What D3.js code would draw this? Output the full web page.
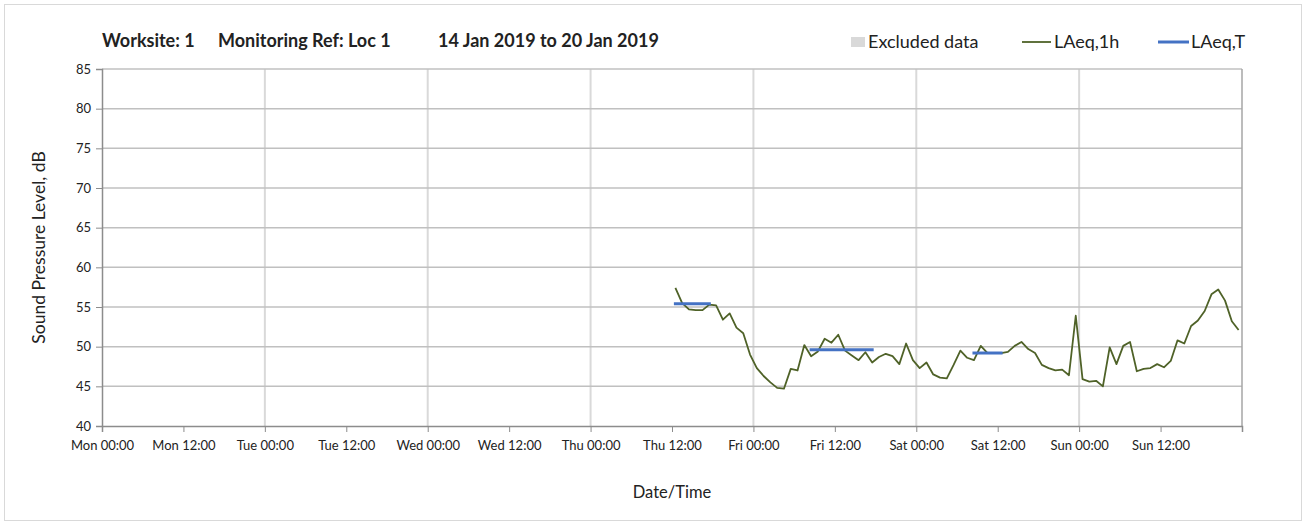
<!DOCTYPE html>
<html><head><meta charset="utf-8">
<script src="https://cdn.jsdelivr.net/npm/d3@7"></script>
<style>
html,body{margin:0;padding:0;background:#fff;}
svg text{font-family:Lato,"Open Sans",sans-serif;fill:#222;}
</style></head><body>
<svg id="chart" width="1306" height="525"></svg>
<script>
// ---- data ----
const titleParts = ["Worksite: 1", "Monitoring Ref: Loc 1", "14 Jan 2019 to 20 Jan 2019"];
const xDomain = ["2019-01-14T00:00:00Z", "2019-01-21T00:00:00Z"];
const yTicks = [40, 45, 50, 55, 60, 65, 70, 75, 80, 85];
const firstHour = "2019-01-17T12:30:00Z"; // hourly LAeq,1h samples start here
const laeq1h = [57.4,55.5,54.7,54.6,54.6,55.3,55.2,53.4,54.2,52.4,51.7,49.0,47.3,46.3,45.5,44.8,44.7,47.2,47.0,50.2,
  48.8,49.4,51.0,50.5,51.5,49.5,48.9,48.3,49.3,48.0,48.7,49.1,48.8,47.8,50.4,48.3,47.3,48.0,46.5,46.1,
  46.0,47.7,49.5,48.6,48.3,50.1,49.2,49.2,49.2,49.35,50.1,50.6,49.7,49.2,47.7,47.3,47.0,47.1,46.4,53.9,
  45.9,45.6,45.7,45.0,49.9,47.8,50.1,50.6,46.9,47.2,47.3,47.8,47.4,48.2,50.8,50.4,52.6,53.3,54.5,56.6,
  57.2,55.8,53.2,52.1];
const laeqTStart = ["2019-01-17T12:30:00Z", "2019-01-18T08:30:00Z", "2019-01-19T08:30:00Z"];
const laeqTEnd   = ["2019-01-17T17:30:00Z", "2019-01-18T17:30:00Z", "2019-01-19T12:30:00Z"];
const laeqTValue = [55.4, 49.6, 49.2];
const excludedStart = [];
const excludedEnd = [];
const legendLabels = ["Excluded data", "LAeq,1h", "LAeq,T"];

// ---- chart ----
const svg = d3.select("#chart");
const L = 102, R = 1242, T = 69, B = 426;
const x = d3.scaleUtc().domain(xDomain.map(d => new Date(d))).range([L, R]);
const y = d3.scaleLinear().domain([40, 85]).range([B, T]);
const fmt = d3.utcFormat("%a %H:%M");

svg.append("rect").attr("x", 4.5).attr("y", 4.5).attr("width", 1297).attr("height", 516)
  .attr("fill", "#fff").attr("stroke", "#d9d9d9");

const t0 = new Date(firstHour);
const series = laeq1h.map((v, i) => ({t: d3.utcHour.offset(t0, i), v}));

// excluded regions
svg.append("g").selectAll("rect").data(excludedStart.map((s, i) => [new Date(s), new Date(excludedEnd[i])]))
  .join("rect").attr("x", d => x(d[0])).attr("width", d => x(d[1]) - x(d[0]))
  .attr("y", T).attr("height", B - T).attr("fill", "#d9d9d9");

// vertical grid (days)
const dayTicks = x.ticks(d3.utcDay.every(1));
svg.append("g").selectAll("line").data(dayTicks.slice(1, -1)).join("line")
  .attr("x1", d => x(d)).attr("x2", d => x(d)).attr("y1", T).attr("y2", B)
  .attr("stroke", "#d9d9d9").attr("stroke-width", 2);

// horizontal grid
svg.append("g").selectAll("line").data(yTicks.slice(1)).join("line")
  .attr("x1", L).attr("x2", R).attr("y1", d => y(d)).attr("y2", d => y(d))
  .attr("stroke", "#c0c0c0").attr("stroke-width", 1.5);

// right border of plot
svg.append("line").attr("x1", R).attr("x2", R).attr("y1", T).attr("y2", B)
  .attr("stroke", "#a6a6a6").attr("stroke-width", 1.5);

// axes
const yAxis = d3.axisLeft(y).tickValues(yTicks).tickSize(6).tickPadding(5);
const gy = svg.append("g").attr("transform", `translate(${L},0)`).call(yAxis);
gy.select(".domain").attr("stroke", "#8c8c8c").attr("stroke-width", 1.5);
gy.selectAll(".tick line").attr("stroke", "#8c8c8c");
gy.selectAll(".tick text").attr("font-size", 13).attr("font-family", "Lato,sans-serif").attr("fill", "#222");

const xTicks = x.ticks(d3.utcHour.every(12));
const xAxis = d3.axisBottom(x).tickValues(xTicks).tickSize(6).tickPadding(9)
  .tickFormat((d, i) => i === xTicks.length - 1 ? "" : fmt(d));
const gx = svg.append("g").attr("transform", `translate(0,${B})`).call(xAxis);
gx.select(".domain").attr("stroke", "#8c8c8c").attr("stroke-width", 1.5);
gx.selectAll(".tick line").attr("stroke", "#8c8c8c");
gx.selectAll(".tick text").attr("font-size", 13).attr("font-family", "Lato,sans-serif").attr("fill", "#222");

// LAeq,1h line
svg.append("path").datum(series)
  .attr("d", d3.line().x(d => x(d.t)).y(d => y(d.v)))
  .attr("fill", "none").attr("stroke", "#4F6228").attr("stroke-width", 1.8)
  .attr("stroke-linejoin", "round");

// LAeq,T segments
svg.append("g").selectAll("line").data(laeqTValue.map((v, i) => ({s: new Date(laeqTStart[i]), e: new Date(laeqTEnd[i]), v})))
  .join("line").attr("x1", d => x(d.s)).attr("x2", d => x(d.e))
  .attr("y1", d => y(d.v)).attr("y2", d => y(d.v))
  .attr("stroke", "#4472C4").attr("stroke-width", 3).attr("stroke-linecap", "square");

// titles
const titleX = [102, 218, 438];
svg.append("g").selectAll("text").data(titleParts).join("text")
  .attr("x", (d, i) => titleX[i]).attr("y", 47).attr("font-size", 18).attr("font-weight", "bold")
  .text(d => d);

svg.append("text").attr("transform", `translate(45,${(T + B) / 2}) rotate(-90)`)
  .attr("text-anchor", "middle").attr("font-size", 17.5).text("Sound Pressure Level, dB");
svg.append("text").attr("x", (L + R) / 2).attr("y", 498).attr("text-anchor", "middle")
  .attr("font-size", 16.5).text("Date/Time");

// legend
const lg = svg.append("g");
lg.append("rect").attr("x", 851).attr("y", 37).attr("width", 14).attr("height", 10).attr("fill", "#d9d9d9");
lg.append("text").attr("x", 868).attr("y", 48).attr("font-size", 18).text(legendLabels[0]);
lg.append("line").attr("x1", 1022).attr("x2", 1051).attr("y1", 42).attr("y2", 42)
  .attr("stroke", "#4F6228").attr("stroke-width", 1.8);
lg.append("text").attr("x", 1054).attr("y", 48).attr("font-size", 18).text(legendLabels[1]);
lg.append("line").attr("x1", 1158).attr("x2", 1189).attr("y1", 42).attr("y2", 42)
  .attr("stroke", "#4472C4").attr("stroke-width", 3);
lg.append("text").attr("x", 1191).attr("y", 48).attr("font-size", 18).text(legendLabels[2]);
</script>
</body></html>
